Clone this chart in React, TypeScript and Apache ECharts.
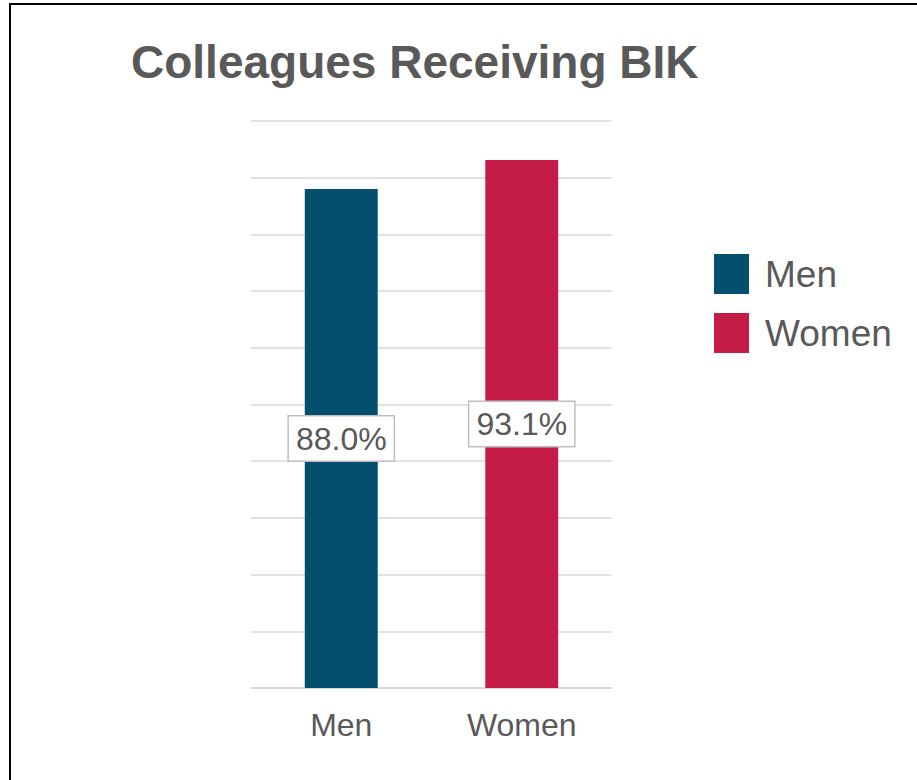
import React, { useEffect, useRef } from "react";
import * as echarts from "echarts";

const titleText = "Colleagues Receiving BIK";
const categories = ["Men", "Women"];
const values = [88.0, 93.1];
const colors = ["#02506E", "#C41C47"];
const yMin = 0;
const yMax = 100;
const yInterval = 10;

const FONT = "'Liberation Sans', Arial, sans-serif";
const TEXT = "#595959";
const GRID_LINE = "#d9d9d9";

export default function App() {
  const ref = useRef<HTMLDivElement>(null);

  useEffect(() => {
    if (!ref.current) return;
    const chart = echarts.init(ref.current, null, { renderer: "svg" });
    const series = categories.map((name, i) => ({
      name,
      type: "bar",
      stack: "all",
      barWidth: "40.4%",
      itemStyle: { color: colors[i] },
      data: categories.map((_, j) => (j === i ? values[i] : "-")),
      label: {
        show: true,
        position: "inside",
        formatter: (p: any) => Number(p.value).toFixed(1) + "%",
        color: TEXT,
        fontFamily: FONT,
        fontSize: 32,
        lineHeight: 36,
        backgroundColor: "#ffffff",
        borderColor: "#bfbfbf",
        borderWidth: 1.5,
        padding: [4, 7, 4, 7],
      },
    }));

    chart.setOption({
      animation: false,
      backgroundColor: "#ffffff",
      textStyle: { fontFamily: FONT },
      title: {
        text: titleText,
        left: 131,
        top: 39,
        padding: 0,
        textStyle: {
          color: TEXT,
          fontFamily: FONT,
          fontWeight: "bold",
          fontSize: 46,
        },
      },
      legend: {
        orient: "vertical",
        left: 714,
        top: 250,
        padding: 0,
        itemWidth: 35,
        itemHeight: 40,
        itemGap: 11,
        icon: "rect",
        data: categories,
        textStyle: {
          color: TEXT,
          fontFamily: FONT,
          fontSize: 37,
          lineHeight: 40,
          padding: [8, 0, 0, 11],
        },
      },
      grid: {
        left: 251,
        right: 305,
        top: 121,
        bottom: 92,
        containLabel: false,
        outerBoundsMode: "none",
      },
      xAxis: {
        type: "category",
        data: categories,
        axisTick: { show: false },
        axisLine: { show: true, lineStyle: { color: GRID_LINE, width: 1.5 } },
        axisLabel: {
          color: TEXT,
          fontFamily: FONT,
          fontSize: 32,
          margin: 21,
        },
      },
      yAxis: {
        type: "value",
        min: yMin,
        max: yMax,
        interval: yInterval,
        axisLabel: { show: false },
        axisLine: { show: false },
        axisTick: { show: false },
        splitLine: { show: true, lineStyle: { color: GRID_LINE, width: 1.5 } },
      },
      series,
    });
    return () => chart.dispose();
  }, []);

  return (
    <div
      style={{
        position: "fixed",
        left: 0,
        top: 0,
        width: 917,
        height: 780,
        overflow: "hidden",
        background: "#fff",
      }}
    >
      <div ref={ref} style={{ position: "absolute", left: 0, top: 0, width: 917, height: 780 }} />
      <div
        style={{
          position: "absolute",
          left: 9,
          top: 3,
          width: 940,
          height: 800,
          borderLeft: "2px solid #000",
          borderTop: "2px solid #000",
          pointerEvents: "none",
        }}
      />
    </div>
  );
}
